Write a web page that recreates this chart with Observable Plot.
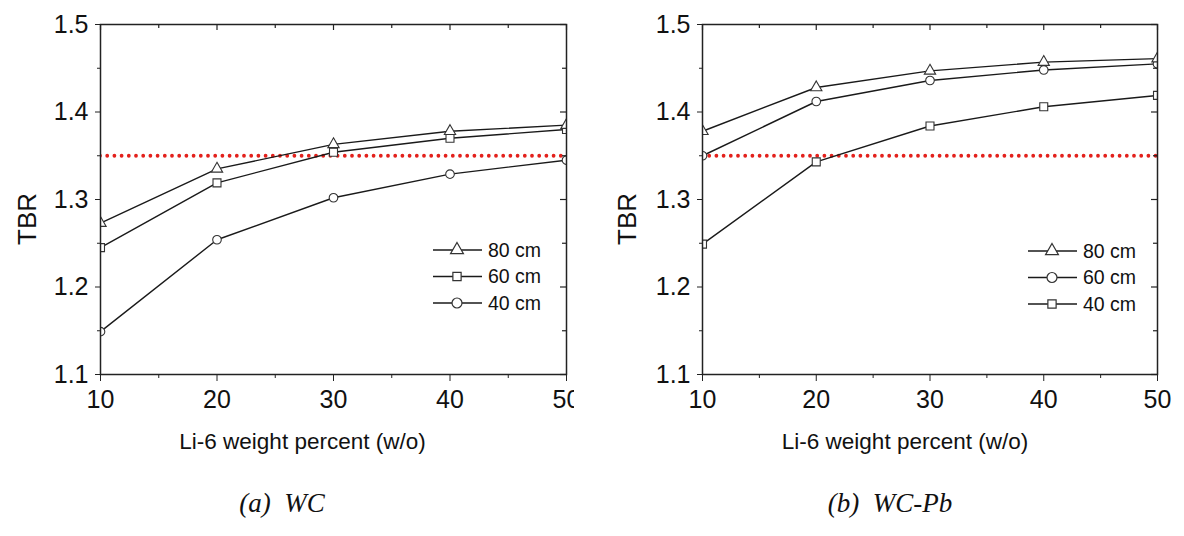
<!DOCTYPE html>
<html><head><meta charset="utf-8">
<script src="https://cdn.jsdelivr.net/npm/d3@7"></script>
<script src="https://cdn.jsdelivr.net/npm/@observablehq/plot@0.6"></script>
<style>
body{margin:0;background:#fff;}
#wrap{position:relative;width:1184px;height:536px;overflow:hidden;background:#fff;font-family:"Liberation Sans",Arial,sans-serif;color:#111;}
.panel{position:absolute;top:0;}
.cap{position:absolute;top:488px;font-family:"Liberation Serif","Times New Roman",serif;font-style:italic;font-size:27px;white-space:pre;transform:translateX(-50%);color:#111;}
.ylab{position:absolute;font-family:"Liberation Sans",Arial,sans-serif;font-size:26px;color:#111;white-space:nowrap;transform:translate(-50%,-50%) rotate(-90deg);line-height:1;}
.legend{position:absolute;}
</style></head><body><div id="wrap"></div>
<script>
// ---- data ----
const liWt = [10, 20, 30, 40, 50];
const xTicks = [10, 20, 30, 40, 50];
const xMinor = [15, 25, 35, 45];
const yTicks = [1.1, 1.2, 1.3, 1.4, 1.5];
const yMinor = [1.15, 1.25, 1.35, 1.45];
const wc80 = [1.273, 1.335, 1.363, 1.378, 1.385];
const wc60 = [1.245, 1.319, 1.354, 1.370, 1.380];
const wc40 = [1.149, 1.254, 1.302, 1.329, 1.345];
const pb80 = [1.378, 1.428, 1.447, 1.457, 1.461];
const pb60 = [1.350, 1.412, 1.436, 1.448, 1.455];
const pb40 = [1.249, 1.343, 1.384, 1.406, 1.419];
const target = 1.35;
const xLabel = "Li-6 weight percent (w/o)";
const yLabel = "TBR";
const captions = ["(a)  WC", "(b)  WC-Pb"];

const symSize = {triangle: 4.2, square: 4.5, circle: 4.3};

const panels = [
  {left: 0, width: 574, mL: 100, mR: 8, labelDx: -31, cap: captions[0], capX: 282, yLabX: 27,
   series: [{name: "80 cm", v: wc80, sym: "triangle"}, {name: "60 cm", v: wc60, sym: "square"}, {name: "40 cm", v: wc40, sym: "circle"}],
   legend: {left: 428, top: 236}},
  {left: 600, width: 584, mL: 102, mR: 27, labelDx: -25, cap: captions[1], capX: 890, yLabX: 627,
   series: [{name: "80 cm", v: pb80, sym: "triangle"}, {name: "60 cm", v: pb60, sym: "circle"}, {name: "40 cm", v: pb40, sym: "square"}],
   legend: {left: 1023, top: 237}}
];

const wrap = document.getElementById("wrap");
const H = 470, mT = 24, mB = 96;

for (const p of panels) {
  const rows = [];
  for (const s of p.series) s.v.forEach((y, i) => rows.push({x: liWt[i], y, s: s.name, sym: s.sym, r: symSize[s.sym]}));
  const fh = H - mT - mB, fw = p.width - p.mL - p.mR;
  const chart = Plot.plot({
    width: p.width, height: H,
    marginLeft: p.mL, marginRight: p.mR, marginTop: mT, marginBottom: mB,
    style: {fontFamily: "Liberation Sans, Arial, sans-serif", fontSize: "25px", color: "#111", background: "white", overflow: "hidden"},
    x: {domain: [10, 50], axis: null},
    y: {domain: [1.1, 1.5], axis: null},
    r: {type: "identity"},
    symbol: {type: "identity"},
    marks: [
      Plot.ruleY([target], {stroke: "#e3211c", strokeWidth: 3.8, strokeDasharray: "0,7.2", strokeLinecap: "round", clip: true}),
      Plot.line(rows, {x: "x", y: "y", z: "s", stroke: "#1a1a1a", strokeWidth: 1.4, clip: true}),
      Plot.dot(rows, {x: "x", y: "y", symbol: "sym", r: "r", fill: "white", stroke: "#333", strokeWidth: 1.1, clip: true}),
      Plot.frame({stroke: "#222", strokeWidth: 1.5}),
      Plot.axisX(xTicks, {anchor: "bottom", tickSize: 7, tickPadding: 9, fontSize: 25, label: null, stroke: "#222"}),
      Plot.axisX(xMinor, {anchor: "bottom", tickSize: 4, tickFormat: () => "", label: null, stroke: "#222"}),
      Plot.axisY(yTicks, {anchor: "left", tickSize: 5, tickPadding: 7, fontSize: 25, label: null, tickFormat: d => d.toFixed(1), stroke: "#222"}),
      Plot.axisY(yMinor, {anchor: "left", tickSize: 3, tickFormat: () => "", label: null, stroke: "#222"}),
      Plot.tickX(xTicks, {x: d => d, insetBottom: fh - 6, stroke: "#222", strokeWidth: 1.2}),
      Plot.tickX(xMinor, {x: d => d, insetBottom: fh - 4, stroke: "#222", strokeWidth: 1.2}),
      Plot.tickY(yTicks, {y: d => d, insetLeft: fw - 6, stroke: "#222", strokeWidth: 1.2}),
      Plot.tickY(yMinor, {y: d => d, insetLeft: fw - 4, stroke: "#222", strokeWidth: 1.2}),
      Plot.text([xLabel], {frameAnchor: "bottom", text: d => d, dy: 74, dx: p.labelDx, fontSize: 22.5, fill: "#111"})
    ]
  });
  chart.classList.add("panel");
  chart.style.left = p.left + "px";
  wrap.appendChild(chart);

  const yl = document.createElement("div");
  yl.className = "ylab";
  yl.style.left = p.yLabX + "px";
  yl.style.top = "219px";
  yl.textContent = yLabel;
  wrap.appendChild(yl);

  // legend
  const lg = d3.create("svg").attr("class", "legend").attr("width", 140).attr("height", 90)
    .style("left", p.legend.left + "px").style("top", p.legend.top + "px");
  const symTypes = {triangle: d3.symbolTriangle, square: d3.symbolSquare, circle: d3.symbolCircle};
  const legSize = {triangle: 72, square: 68, circle: 78};
  p.series.forEach((s, i) => {
    const y = 14 + i * 26.5;
    lg.append("line").attr("x1", 5).attr("x2", 54).attr("y1", y).attr("y2", y).attr("stroke", "#1a1a1a").attr("stroke-width", 1.5);
    lg.append("path").attr("d", d3.symbol(symTypes[s.sym], legSize[s.sym])()).attr("transform", `translate(29,${y})`)
      .attr("fill", "white").attr("stroke", "#333").attr("stroke-width", 1.2);
    lg.append("text").attr("x", 60).attr("y", y).attr("dy", "0.35em").attr("font-size", 19.5)
      .attr("font-family", "Liberation Sans, Arial, sans-serif").attr("fill", "#111").text(s.name);
  });
  wrap.appendChild(lg.node());

  const cap = document.createElement("div");
  cap.className = "cap";
  cap.style.left = p.capX + "px";
  cap.textContent = p.cap;
  wrap.appendChild(cap);
}
</script></body></html>
